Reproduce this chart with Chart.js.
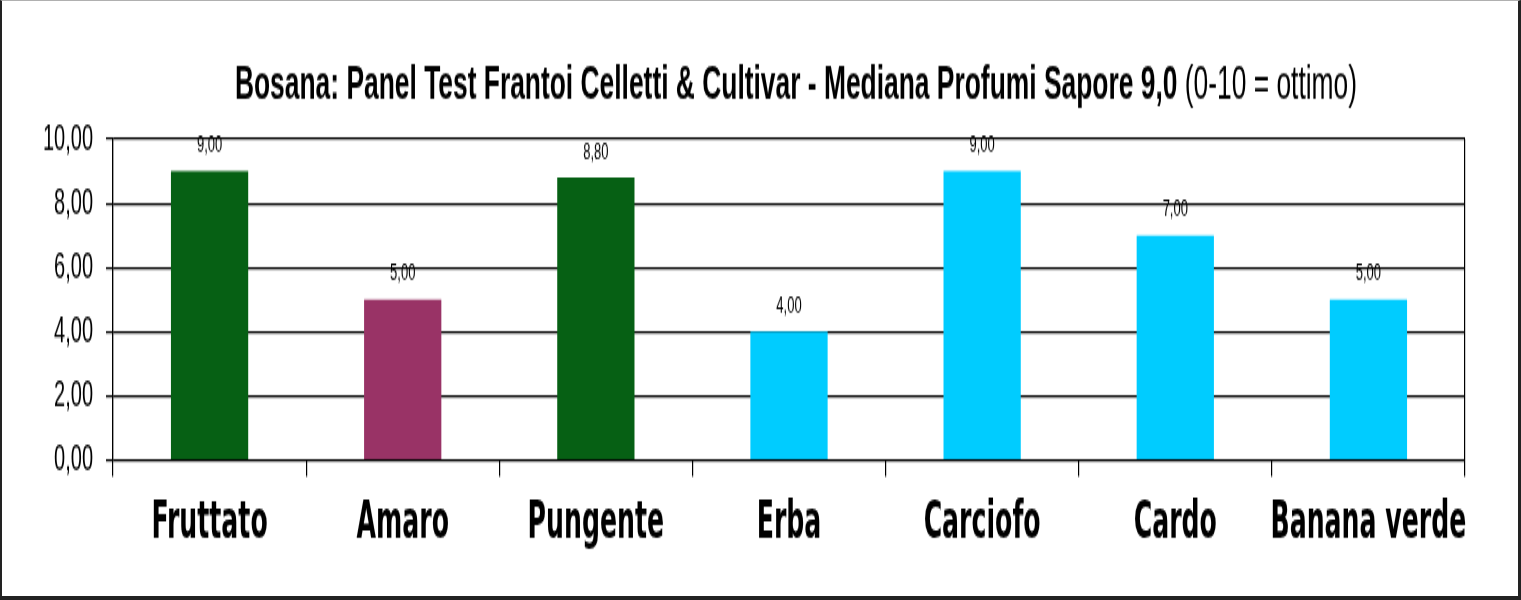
<!DOCTYPE html>
<html>
<head>
<meta charset="utf-8">
<script src="https://cdn.jsdelivr.net/npm/chart.js@4.4.0/dist/chart.umd.min.js"></script>
<style>
  body { margin: 0; background: #fff; }
  #wrap { position: relative; width: 1521px; height: 600px; }
  #myChart { display: block; width: 1521px; height: 600px; }
  #frame {
    position: absolute; left: 0; top: 0; width: 1521px; height: 600px;
    box-sizing: border-box; pointer-events: none;
    border-top: 1px solid #b0b0b0; border-left: 2px solid #222;
    border-right: 3px solid #222; border-bottom: 4px solid #222;
  }
</style>
</head>
<body>
<div id="wrap">
  <!-- drawn at 1521x328, then stretched to 600 tall like the original picture -->
  <canvas id="myChart" width="1521" height="328" style="width:1521px;height:600px"></canvas>
  <div id="frame"></div>
</div>
<script>
const categories = ['Fruttato', 'Amaro', 'Pungente', 'Erba', 'Carciofo', 'Cardo', 'Banana verde'];
const values = [9.00, 5.00, 8.80, 4.00, 9.00, 7.00, 5.00];
const barColors = ['#066014', '#993366', '#066014', '#00ccff', '#00ccff', '#00ccff', '#00ccff'];
const yTicks = [0, 2, 4, 6, 8, 10];
const titleBold = 'Bosana: Panel Test Frantoi Celletti & Cultivar - Mediana Profumi Sapore 9,0';
const titleNormal = ' (0-10 = ottimo)';

const fmt = v => v.toFixed(2).replace('.', ',');

// title with bold + normal part
const titlePlugin = {
  id: 'mixedTitle',
  afterDraw(chart) {
    const ctx = chart.ctx;
    ctx.save();
    ctx.fillStyle = '#000';
    ctx.textBaseline = 'middle';
    ctx.textAlign = 'left';
    const fb = 'bold 26.4px "Liberation Sans", Arial, sans-serif';
    const fn = '26.4px "Liberation Sans", Arial, sans-serif';
    ctx.font = fb;
    const wb = ctx.measureText(titleBold).width;
    ctx.font = fn;
    const wn = ctx.measureText(titleNormal).width;
    let x = 796 - (wb + wn) / 2;
    ctx.font = fb;
    ctx.fillText(titleBold, x, 47);
    ctx.font = fn;
    ctx.fillText(titleNormal, x + wb, 47);
    ctx.restore();
  }
};

// value labels above bars
const labelPlugin = {
  id: 'barValues',
  afterDatasetsDraw(chart) {
    const ctx = chart.ctx;
    const meta = chart.getDatasetMeta(0);
    ctx.save();
    ctx.fillStyle = '#000';
    ctx.font = '13px "Liberation Sans", Arial, sans-serif';
    ctx.textAlign = 'center';
    ctx.textBaseline = 'middle';
    meta.data.forEach((bar, i) => {
      ctx.fillText(fmt(values[i]), bar.x, bar.y - 14);
    });
    ctx.restore();
  }
};

// only the outer category lines go through the plot area
const edgeLine = c => (c.type !== 'tick' || c.index === 0) ? '#000' : 'rgba(0,0,0,0)';

const myChart = new Chart('myChart', {
  type: 'bar',
  data: {
    labels: categories,
    datasets: [{
      data: values,
      backgroundColor: barColors,
      barPercentage: 0.4,
      categoryPercentage: 1
    }]
  },
  options: {
    responsive: false,
    devicePixelRatio: 1,
    animation: false,
    layout: { padding: { top: 76, left: 10, right: 56, bottom: 0 } },
    plugins: {
      legend: { display: false },
      title: { display: false },
      tooltip: { enabled: false }
    },
    scales: {
      x: {
        offset: true,
        grid: {
          offset: true,
          color: edgeLine,
          tickColor: '#000',
          lineWidth: 1.2,
          tickLength: 9
        },
        border: { display: false },
        ticks: {
          color: '#000',
          padding: 9,
          autoSkip: false,
          maxRotation: 0,
          font: { family: '"DejaVu Sans Condensed", "DejaVu Sans", sans-serif', weight: 'bold', size: 28 }
        },
        afterFit: s => { s.height = 76.5; }
      },
      y: {
        min: 0,
        max: 10,
        afterBuildTicks: s => { s.ticks = yTicks.map(v => ({ value: v })); },
        grid: { color: '#000', lineWidth: 1.2, tickLength: 7 },
        border: { color: '#000', width: 1.2 },
        ticks: {
          color: '#000',
          padding: 13,
          callback: v => fmt(v),
          font: { family: '"Liberation Sans", Arial, sans-serif', size: 20 }
        },
        afterFit: s => { s.width = 103; }
      }
    }
  },
  plugins: [titlePlugin, labelPlugin]
});
</script>
</body>
</html>
